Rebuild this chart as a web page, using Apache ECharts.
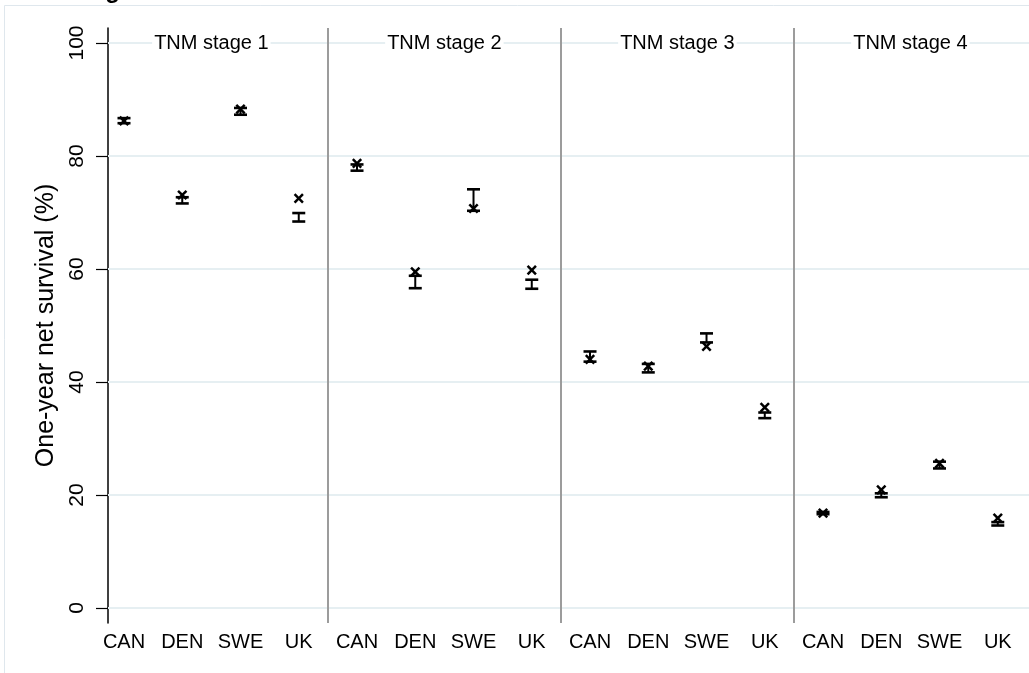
<!DOCTYPE html>
<html><head><meta charset="utf-8">
<script src="https://cdn.jsdelivr.net/npm/echarts@6/dist/echarts.min.js"></script>
<style>html,body{margin:0;padding:0;background:#fff}#c{width:1029px;height:673px}</style>
</head><body><div id="c"></div>
<script>
const countries = ['CAN', 'DEN', 'SWE', 'UK'];
const stages = ['TNM stage 1', 'TNM stage 2', 'TNM stage 3', 'TNM stage 4'];
// point estimates (x markers), one list per stage, in country order
const estimateStage1 = [86.2, 73.1, 88.3, 72.5];
const estimateStage2 = [78.7, 59.5, 70.7, 59.8];
const estimateStage3 = [44.0, 42.8, 46.3, 35.5];
const estimateStage4 = [16.8, 20.9, 25.6, 15.9];
// confidence interval bars
const lowStage1 = [85.8, 71.6, 87.3, 68.4];
const lowStage2 = [77.4, 56.6, 70.3, 56.5];
const lowStage3 = [43.6, 41.7, 47.0, 33.6];
const lowStage4 = [16.6, 19.6, 24.7, 14.6];
const highStage1 = [86.7, 72.7, 88.5, 69.9];
const highStage2 = [78.5, 58.8, 74.1, 58.1];
const highStage3 = [45.4, 43.2, 48.6, 34.6];
const highStage4 = [17.0, 20.3, 25.9, 15.2];
const yTicks = [0, 20, 40, 60, 80, 100];

const estimates = [estimateStage1, estimateStage2, estimateStage3, estimateStage4];
const lows = [lowStage1, lowStage2, lowStage3, lowStage4];
const highs = [highStage1, highStage2, highStage3, highStage4];

const rows = [];
stages.forEach((s, si) => countries.forEach((c, ci) => {
  rows.push([si * 4 + ci + 1, estimates[si][ci], lows[si][ci], highs[si][ci]]);
}));
const xPositions = rows.map(r => r[0]);
const stageLabels = stages.map((s, si) => [si * 4 + 2.5, 100, si]);
const separators = stages.slice(1).map((s, si) => ({ xAxis: (si + 1) * 4 + 0.5 }));

const chart = echarts.init(document.getElementById('c'), null, { renderer: 'canvas' });
const FONT = '"Liberation Sans", Arial, sans-serif';
chart.setOption({
  animation: false,
  backgroundColor: '#fff',
  textStyle: { fontFamily: FONT },
  graphic: [
    { type: 'rect', z: -10, shape: { x: 4.5, y: 5.5, width: 1040, height: 690 },
      style: { fill: 'none', stroke: '#dfe7ed', lineWidth: 1 } },
    { type: 'text', x: 68, y: -21, style: { text: 'Stage', font: 'bold 24px ' + FONT, fill: '#000', verticalAlign: 'top' } }
  ],
  grid: { left: 108, right: 0, top: 28, bottom: 50 },
  xAxis: {
    type: 'value', min: 0.7253, max: 16.536,
    axisLine: { show: true, lineStyle: { color: '#000', width: 1.5 } },
    axisTick: { show: false },
    splitLine: { show: false },
    axisLabel: {
      customValues: xPositions,
      formatter: v => countries[(Math.round(v) - 1) % 4],
      fontSize: 20, color: '#000', margin: 9
    }
  },
  yAxis: {
    type: 'value', min: -2.655, max: 102.65,
    name: 'One-year net survival (%)', nameLocation: 'middle', nameGap: 41,
    nameTextStyle: { fontSize: 25, color: '#000' },
    axisLine: { show: true, lineStyle: { color: '#000', width: 1.5 } },
    axisTick: { show: true, length: 12, customValues: yTicks, lineStyle: { color: '#000', width: 1.2 } },
    axisLabel: { customValues: yTicks, rotate: 90, fontSize: 21, color: '#000', margin: 20 },
    splitLine: { show: false }
  },
  series: [
    {
      type: 'scatter', data: [], z: 1, silent: true,
      markLine: {
        silent: true, symbol: 'none', label: { show: false },
        lineStyle: { color: '#e6eff2', width: 2, type: 'solid' },
        data: yTicks.map(v => ({ yAxis: v }))
      }
    },
    {
      type: 'scatter', data: [], z: 2, silent: true,
      markLine: {
        silent: true, symbol: 'none', label: { show: false },
        lineStyle: { color: '#9c9c9c', width: 2, type: 'solid' },
        data: separators
      }
    },
    {
      type: 'custom', z: 10, silent: true,
      encode: { x: 0, y: 1 },
      data: stageLabels,
      renderItem: (params, api) => {
        const p = api.coord([api.value(0), api.value(1)]);
        return {
          type: 'text', x: p[0], y: p[1] + 1,
          style: { text: stages[api.value(2)], font: '20px ' + FONT, fill: '#000',
                   align: 'center', verticalAlign: 'middle', backgroundColor: '#fff', padding: [1, 2] }
        };
      }
    },
    {
      type: 'custom', z: 5, silent: true,
      encode: { x: 0, y: [1, 2, 3] },
      data: rows,
      renderItem: (params, api) => {
        const x = api.value(0);
        const pE = api.coord([x, api.value(1)]);
        const pL = api.coord([x, api.value(2)]);
        const pH = api.coord([x, api.value(3)]);
        const cw = 6.5, m = 4.2;
        const st = { stroke: '#000', lineWidth: 2 };
        const cap = { stroke: '#000', lineWidth: 2.6 };
        const mk = { stroke: '#000', lineWidth: 2.5 };
        return {
          type: 'group', children: [
            { type: 'line', shape: { x1: pL[0], y1: pL[1], x2: pH[0], y2: pH[1] }, style: st },
            { type: 'line', shape: { x1: pL[0] - cw, y1: pL[1], x2: pL[0] + cw, y2: pL[1] }, style: cap },
            { type: 'line', shape: { x1: pH[0] - cw, y1: pH[1], x2: pH[0] + cw, y2: pH[1] }, style: cap },
            { type: 'line', shape: { x1: pE[0] - m, y1: pE[1] - m, x2: pE[0] + m, y2: pE[1] + m }, style: mk },
            { type: 'line', shape: { x1: pE[0] - m, y1: pE[1] + m, x2: pE[0] + m, y2: pE[1] - m }, style: mk }
          ]
        };
      }
    }
  ]
});
</script>
</body></html>
